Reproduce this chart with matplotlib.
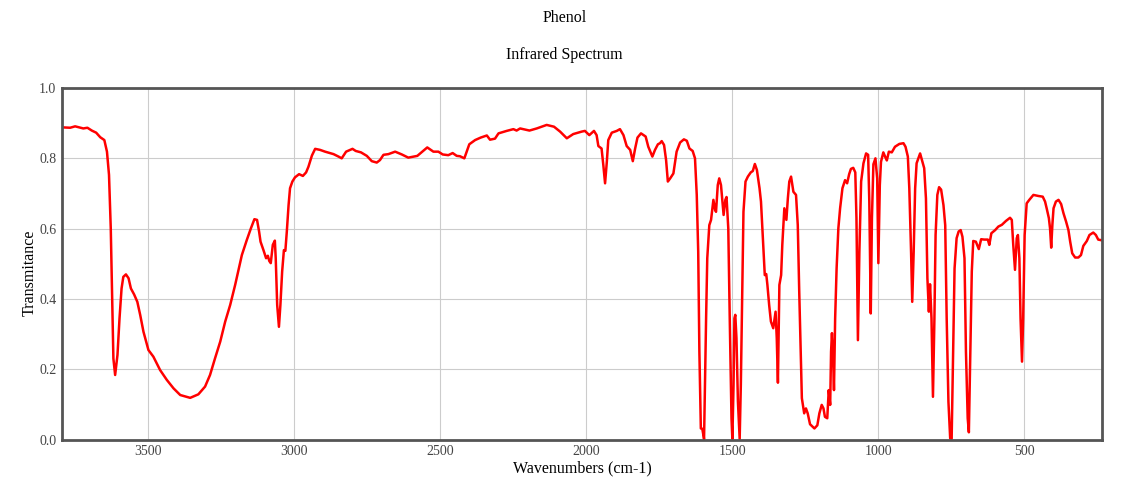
#!/usr/bin/env python3
"""Phenol IR spectrum, redrawn from digitised transmittance values."""
import matplotlib
matplotlib.use("Agg")
import matplotlib.pyplot as plt

TITLE = "Phenol"
SUBTITLE = "Infrared Spectrum"
X_LABEL = "Wavenumbers (cm-1)"
Y_LABEL = "Transmitance"

X_TICKS = [3500, 3000, 2500, 2000, 1500, 1000, 500]
Y_TICKS = [0.0, 0.2, 0.4, 0.6, 0.8, 1.0]

wavenumber = [
    3793, 3768, 3751, 3723, 3709, 3694, 3679, 3665, 3651, 3642, 3635, 3629,
    3624, 3620, 3614, 3606, 3599, 3592, 3586, 3577, 3568, 3560, 3549, 3538,
    3528, 3517, 3500, 3483, 3460, 3437, 3414, 3391, 3357, 3329, 3306, 3289,
    3272, 3254, 3237, 3220, 3203, 3180, 3163, 3149, 3137, 3128, 3121, 3116,
    3106, 3097, 3091, 3086, 3081, 3074, 3067, 3064, 3059, 3053, 3048, 3042,
    3036, 3031, 3026, 3020, 3015, 3007, 2998, 2984, 2971, 2960, 2952, 2940,
    2929, 2912, 2895, 2866, 2849, 2838, 2823, 2801, 2790, 2772, 2752, 2735,
    2718, 2707, 2695, 2678, 2655, 2632, 2610, 2579, 2545, 2524, 2507, 2492,
    2473, 2458, 2444, 2433, 2418, 2401, 2381, 2362, 2341, 2330, 2313, 2301,
    2273, 2250, 2239, 2227, 2195, 2170, 2136, 2111, 2090, 2067, 2045, 2016,
    2005, 1990, 1974, 1965, 1959, 1948, 1942, 1936, 1930, 1925, 1913, 1896,
    1885, 1873, 1862, 1850, 1841, 1833, 1825, 1813, 1797, 1788, 1774, 1765,
    1755, 1748, 1742, 1734, 1727, 1721, 1713, 1702, 1691, 1679, 1666, 1656,
    1647, 1636, 1628, 1622, 1617, 1613, 1608, 1603, 1597, 1594, 1590, 1586,
    1579, 1573, 1565, 1559, 1556, 1550, 1545, 1539, 1533, 1530, 1524, 1520,
    1514, 1509, 1503, 1500, 1496, 1493, 1490, 1486, 1481, 1475, 1471, 1466,
    1462, 1455, 1447, 1437, 1430, 1423, 1416, 1407, 1402, 1396, 1389, 1384,
    1380, 1374, 1368, 1360, 1352, 1348, 1344, 1339, 1333, 1329, 1322, 1315,
    1310, 1305, 1299, 1291, 1282, 1276, 1271, 1266, 1262, 1254, 1248, 1242,
    1234, 1219, 1209, 1202, 1194, 1188, 1183, 1175, 1170, 1165, 1162, 1159,
    1155, 1152, 1148, 1143, 1137, 1131, 1123, 1114, 1107, 1100, 1094, 1086,
    1079, 1075, 1070, 1065, 1059, 1051, 1042, 1035, 1031, 1026, 1022, 1017,
    1010, 1004, 1000, 995, 991, 983, 977, 971, 964, 954, 943, 928,
    914, 907, 899, 894, 888, 884, 879, 874, 869, 857, 843, 837,
    832, 827, 823, 818, 813, 808, 804, 798, 792, 785, 777, 771,
    766, 760, 754, 749, 744, 739, 732, 725, 718, 712, 705, 700,
    694, 690, 685, 680, 675, 666, 656, 648, 637, 625, 620, 613,
    600, 589, 577, 563, 549, 543, 538, 532, 526, 522, 517, 513,
    508, 504, 499, 492, 483, 469, 452, 437, 429, 423, 416, 412,
    408, 404, 400, 392, 383, 374, 366, 357, 349, 343, 336, 326,
    315, 306, 298, 286, 277, 264, 255, 247, 235,
]
transmittance = [
    0.888, 0.887, 0.891, 0.885, 0.887, 0.879, 0.873, 0.860, 0.852, 0.819, 0.753, 0.601,
    0.392, 0.231, 0.184, 0.241, 0.345, 0.430, 0.463, 0.470, 0.459, 0.430, 0.413, 0.392,
    0.354, 0.307, 0.255, 0.236, 0.198, 0.170, 0.146, 0.127, 0.119, 0.129, 0.151, 0.184,
    0.231, 0.279, 0.336, 0.383, 0.440, 0.525, 0.568, 0.601, 0.627, 0.625, 0.592, 0.563,
    0.539, 0.516, 0.523, 0.508, 0.502, 0.554, 0.566, 0.516, 0.383, 0.321, 0.383, 0.478,
    0.539, 0.537, 0.592, 0.667, 0.715, 0.734, 0.746, 0.755, 0.750, 0.760, 0.776, 0.808,
    0.827, 0.824, 0.819, 0.812, 0.805, 0.800, 0.819, 0.827, 0.821, 0.817, 0.807, 0.792,
    0.788, 0.795, 0.810, 0.812, 0.819, 0.811, 0.802, 0.807, 0.831, 0.819, 0.819, 0.811,
    0.809, 0.815, 0.807, 0.806, 0.800, 0.840, 0.852, 0.859, 0.865, 0.853, 0.856, 0.871,
    0.878, 0.883, 0.879, 0.885, 0.879, 0.885, 0.895, 0.890, 0.876, 0.857, 0.869, 0.876,
    0.878, 0.866, 0.878, 0.866, 0.835, 0.828, 0.781, 0.729, 0.790, 0.852, 0.873, 0.878,
    0.883, 0.866, 0.835, 0.824, 0.792, 0.828, 0.859, 0.871, 0.862, 0.833, 0.805, 0.824,
    0.840, 0.843, 0.849, 0.838, 0.795, 0.734, 0.743, 0.757, 0.819, 0.845, 0.854, 0.850,
    0.828, 0.821, 0.800, 0.696, 0.535, 0.250, 0.032, 0.031, 0.002, 0.156, 0.345, 0.516,
    0.610, 0.625, 0.682, 0.653, 0.648, 0.724, 0.743, 0.724, 0.667, 0.639, 0.682, 0.690,
    0.601, 0.345, 0.061, 0.002, 0.156, 0.345, 0.355, 0.289, 0.109, 0.002, 0.156, 0.440,
    0.648, 0.734, 0.748, 0.760, 0.764, 0.784, 0.767, 0.715, 0.677, 0.582, 0.468, 0.471,
    0.440, 0.383, 0.336, 0.317, 0.364, 0.289, 0.162, 0.440, 0.468, 0.554, 0.658, 0.625,
    0.686, 0.734, 0.748, 0.705, 0.696, 0.610, 0.421, 0.250, 0.118, 0.075, 0.089, 0.075,
    0.044, 0.032, 0.041, 0.075, 0.099, 0.089, 0.065, 0.061, 0.141, 0.099, 0.250, 0.303,
    0.231, 0.141, 0.345, 0.487, 0.601, 0.658, 0.715, 0.738, 0.729, 0.755, 0.770, 0.773,
    0.760, 0.630, 0.283, 0.535, 0.734, 0.786, 0.814, 0.810, 0.677, 0.359, 0.630, 0.783,
    0.800, 0.743, 0.502, 0.724, 0.790, 0.817, 0.805, 0.794, 0.819, 0.817, 0.833, 0.841,
    0.843, 0.833, 0.805, 0.715, 0.535, 0.392, 0.535, 0.715, 0.786, 0.814, 0.772, 0.686,
    0.459, 0.364, 0.442, 0.345, 0.122, 0.345, 0.582, 0.696, 0.718, 0.711, 0.667, 0.610,
    0.345, 0.108, 0.004, 0.002, 0.250, 0.487, 0.573, 0.592, 0.596, 0.577, 0.516, 0.250,
    0.061, 0.021, 0.250, 0.478, 0.565, 0.563, 0.542, 0.570, 0.569, 0.569, 0.554, 0.587,
    0.596, 0.606, 0.611, 0.622, 0.631, 0.625, 0.554, 0.483, 0.573, 0.582, 0.516, 0.345,
    0.222, 0.345, 0.582, 0.672, 0.682, 0.696, 0.693, 0.691, 0.677, 0.656, 0.630, 0.601,
    0.546, 0.611, 0.658, 0.677, 0.682, 0.670, 0.644, 0.620, 0.596, 0.563, 0.530, 0.518,
    0.518, 0.525, 0.551, 0.565, 0.582, 0.589, 0.582, 0.569, 0.567,
]

SERIF = ["Liberation Serif", "DejaVu Serif"]


def main():
    plt.rcParams["font.family"] = SERIF
    fig = plt.figure(figsize=(11.29, 4.88), dpi=100)
    ax = fig.add_axes([62 / 1129, 1 - 439.7 / 488, 1040.3 / 1129, 351.7 / 488])

    ax.plot(wavenumber, transmittance, color="#ff0000", linewidth=1.8, clip_on=True)

    ax.set_xlim(3796, 233)
    ax.set_ylim(0.0, 1.0)
    ax.set_xticks(X_TICKS)
    ax.set_yticks(Y_TICKS)
    ax.set_yticklabels([f"{v:.1f}" for v in Y_TICKS])
    ax.tick_params(length=0, labelsize=10, labelcolor="#444444", pad=4)
    ax.grid(True, color="#cccccc", linewidth=0.8)
    ax.set_axisbelow(True)
    for s in ax.spines.values():
        s.set_color("#555555")
        s.set_linewidth(2)

    ax.set_xlabel(X_LABEL, fontsize=11.5)
    ax.set_ylabel(Y_LABEL, fontsize=11.5)
    # label centres placed where the reference has them
    ax.xaxis.set_label_coords(0.5, (439.7 - 468) / 351.7)
    ax.yaxis.set_label_coords((30 - 62) / 1040.3, (439.7 - 273) / 351.7)
    ax.xaxis.label.set_va("center")
    ax.yaxis.label.set_va("center")

    fig.text(0.5, 1 - 18.5 / 488, TITLE, ha="center", va="center", fontsize=11.5)
    fig.text(0.5, 1 - 55 / 488, SUBTITLE, ha="center", va="center", fontsize=11.5)

    fig.savefig("out.png", dpi=100)
    plt.close(fig)


if __name__ == "__main__":
    main()
